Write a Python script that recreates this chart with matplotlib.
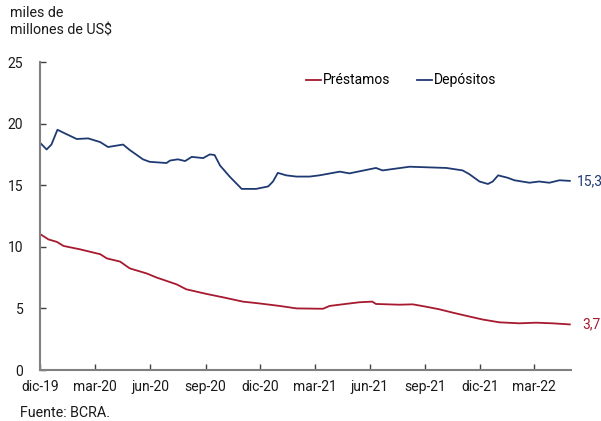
import matplotlib
matplotlib.use("Agg")
import matplotlib.pyplot as plt
import pandas as pd

plt.rcParams['font.family'] = ['Roboto', 'DejaVu Sans']

dep_dates = ["2019-12-01", "2019-12-12", "2019-12-20", "2019-12-30", "2020-01-09", "2020-01-31",
             "2020-02-19", "2020-03-10", "2020-03-23", "2020-04-17", "2020-04-28", "2020-05-20",
             "2020-05-31", "2020-06-28", "2020-07-04", "2020-07-17", "2020-07-29", "2020-08-09",
             "2020-08-28", "2020-09-08", "2020-09-16", "2020-09-25", "2020-10-11", "2020-10-31",
             "2020-11-24", "2020-12-14", "2020-12-22", "2020-12-30", "2021-01-13", "2021-01-30",
             "2021-02-21", "2021-03-09", "2021-04-12", "2021-04-28", "2021-06-11", "2021-06-22",
             "2021-08-06", "2021-10-06", "2021-11-02", "2021-11-13", "2021-11-30", "2021-12-14",
             "2021-12-22", "2021-12-31", "2022-01-16", "2022-01-27", "2022-02-21", "2022-03-09",
             "2022-03-26", "2022-04-12", "2022-04-29"]
dep_values = [18.45, 17.9, 18.3, 19.5, 19.26, 18.75,
              18.8, 18.5, 18.1, 18.3, 17.86, 17.1,
              16.9, 16.8, 17.0, 17.1, 16.96, 17.3,
              17.2, 17.5, 17.45, 16.6, 15.7, 14.7,
              14.7, 14.9, 15.3, 16.0, 15.8, 15.7,
              15.7, 15.8, 16.1, 15.96, 16.4, 16.2,
              16.5, 16.4, 16.2, 15.9, 15.3, 15.1,
              15.3, 15.8, 15.6, 15.4, 15.2, 15.3,
              15.2, 15.4, 15.35]

pre_dates = ["2019-12-01", "2019-12-15", "2019-12-29", "2020-01-09", "2020-02-05", "2020-03-10",
             "2020-03-21", "2020-04-12", "2020-04-28", "2020-05-26", "2020-06-12", "2020-07-15",
             "2020-07-31", "2020-09-03", "2020-09-30", "2020-11-02", "2020-11-30", "2021-01-02",
             "2021-01-30", "2021-03-15", "2021-03-26", "2021-04-28", "2021-05-15", "2021-06-05",
             "2021-06-11", "2021-07-20", "2021-08-11", "2021-09-02", "2021-09-24", "2021-10-17",
             "2021-11-08", "2021-12-05", "2022-01-02", "2022-02-04", "2022-03-04", "2022-03-31",
             "2022-04-29"]
pre_values = [11.04, 10.6, 10.4, 10.07, 9.8, 9.4,
              9.06, 8.8, 8.25, 7.84, 7.5, 6.95,
              6.55, 6.17, 5.9, 5.55, 5.4, 5.2,
              5.0, 4.97, 5.2, 5.4, 5.5, 5.55,
              5.36, 5.3, 5.33, 5.14, 4.93, 4.65,
              4.4, 4.1, 3.87, 3.79, 3.84, 3.79,
              3.7]

tick_dates = ["2019-12-01", "2020-03-01", "2020-06-01", "2020-09-01", "2020-12-01", "2021-03-01",
              "2021-06-01", "2021-09-01", "2021-12-01", "2022-03-01"]
tick_labels = ["dic-19", "mar-20", "jun-20", "sep-20", "dic-20", "mar-21",
               "jun-21", "sep-21", "dic-21", "mar-22"]
y_ticks = [0, 5, 10, 15, 20, 25]

red = '#A6192E'
navy = '#1F3A73'

fig = plt.figure(figsize=(6.01, 4.21), dpi=100)
ax = fig.add_axes([40/601, 51/421, 531/601, 308/421])

dd = pd.to_datetime(dep_dates)
pdt = pd.to_datetime(pre_dates)
ax.plot(pdt, pre_values, color=red, lw=1.3, label='Préstamos')
ax.plot(dd, dep_values, color=navy, lw=1.3, label='Depósitos')

ax.set_xlim(pd.Timestamp("2019-12-01"), pd.Timestamp("2022-05-01"))
ax.set_ylim(0, 25)
ax.set_yticks(y_ticks)
ax.set_yticklabels([str(v) for v in y_ticks])
ax.set_xticks(pd.to_datetime(tick_dates))
ax.set_xticklabels(tick_labels)

for s in ['top', 'right']:
    ax.spines[s].set_visible(False)
for s in ['left', 'bottom']:
    ax.spines[s].set_color('#808080')
    ax.spines[s].set_linewidth(1.5)
ax.tick_params(axis='both', direction='in', length=4, width=1, colors='#404040',
               labelsize=10, labelcolor='#1a1a1a')
ax.tick_params(axis='y', pad=12)
ax.tick_params(axis='x', pad=7)

ax.text(pd.Timestamp(dep_dates[-1]) + pd.Timedelta(days=11), dep_values[-1], '15,3',
        color=navy, fontsize=10, va='center', ha='left')
ax.text(pd.Timestamp(pre_dates[-1]) + pd.Timedelta(days=21), pre_values[-1], '3,7',
        color=red, fontsize=10, va='center', ha='left')

leg = ax.legend(loc='center', bbox_to_anchor=(0.68, 0.94), ncol=2, frameon=False,
                fontsize=10, handlelength=1.1, handletextpad=0.1, columnspacing=1.9,
                borderpad=0)

fig.text(10/601, 1 - 6/421, 'miles de\nmillones de US$', fontsize=10.3, va='top', ha='left',
         linespacing=1.35, color='#1a1a1a')
fig.text(20/601, 1 - 413/421, 'Fuente: BCRA.', fontsize=10.3, va='center', ha='left', color='#1a1a1a')

fig.savefig('out.png', dpi=100)
